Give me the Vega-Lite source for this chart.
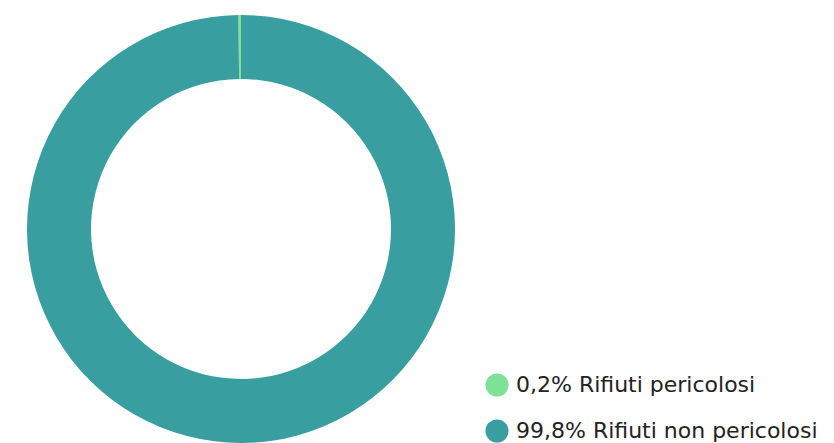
{
  "$schema": "https://vega.github.io/schema/vega-lite/v6.json",
  "width": 482,
  "height": 458,
  "autosize": {"type": "none"},
  "padding": {"left": 0, "top": 0, "right": 352, "bottom": 0},
  "background": "white",
  "data": {
    "values": [
      {"categoria": "0,2% Rifiuti pericolosi", "valore": 0.2, "ordine": 2},
      {"categoria": "99,8% Rifiuti non pericolosi", "valore": 99.8, "ordine": 1}
    ]
  },
  "mark": {"type": "arc", "radius": 214, "radius2": 150},
  "encoding": {
    "theta": {"field": "valore", "type": "quantitative", "stack": true},
    "order": {"field": "ordine", "type": "quantitative"},
    "color": {
      "field": "categoria",
      "type": "nominal",
      "scale": {
        "domain": ["0,2% Rifiuti pericolosi", "99,8% Rifiuti non pericolosi"],
        "range": ["#7de196", "#389e9f"]
      },
      "legend": {
        "title": null,
        "orient": "none",
        "legendX": 485,
        "legendY": 373,
        "padding": 0,
        "symbolType": "circle",
        "symbolSize": 530,
        "symbolStrokeWidth": 0,
        "labelFont": "DejaVu Sans",
        "labelFontSize": 22,
        "labelColor": "#222222",
        "labelOffset": 7,
        "labelLimit": 400,
        "rowPadding": 22
      }
    }
  }
}
